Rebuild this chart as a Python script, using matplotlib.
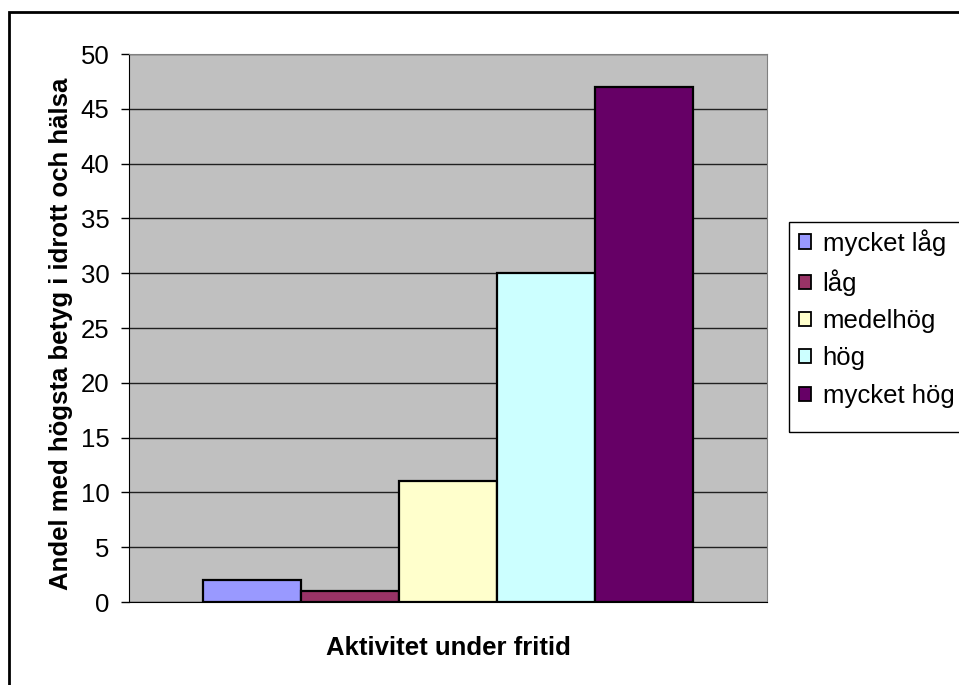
import matplotlib.pyplot as plt
from matplotlib.patches import Patch, Rectangle

plt.rcParams['font.family'] = ['Liberation Sans', 'DejaVu Sans']

# data
kategorier = ['mycket låg', 'låg', 'medelhög', 'hög', 'mycket hög']
andel = [2, 1, 11, 30, 47]
farger = ['#9999FF', '#993366', '#FFFFCC', '#CCFFFF', '#660066']
yticks = list(range(0, 51, 5))

FS = 18.5
W, H = 959, 685
fig = plt.figure(figsize=(W / 100, H / 100), dpi=100)
ax = fig.add_axes([129 / W, 1 - 602 / H, (767 - 129) / W, (602 - 54) / H])
ax.set_facecolor('#C0C0C0')

pos = list(range(len(andel)))
ax.bar(pos, andel, width=1.0, color=farger, edgecolor='black', linewidth=1.6, zorder=3)

ax.set_xlim(-1.255, 5.255)
ax.set_ylim(0, 50)
ax.set_yticks(yticks)
ax.set_xticks([])
ax.yaxis.grid(True, color='#202020', linewidth=1, zorder=1)
ax.set_axisbelow(True)
ax.tick_params(axis='y', labelsize=FS, length=6, width=1, direction='out', pad=8)

for side in ['top', 'right']:
    ax.spines[side].set_color('#808080')
ax.spines['left'].set_color('black')
ax.spines['bottom'].set_color('black')

ax.set_ylabel('Andel med högsta betyg i idrott och hälsa', fontsize=FS, fontweight='bold')
ax.yaxis.set_label_coords(-0.088, 0.49)
ax.set_xlabel('Aktivitet under fritid', fontsize=FS, fontweight='bold')
ax.xaxis.set_label_coords(0.5, -0.062)

# legend utanför diagramytan
handles = [Patch(facecolor=c, edgecolor='black', linewidth=1.3) for c in farger]
leg = fig.legend(handles, kategorier, loc='upper left',
                 bbox_to_anchor=(799 / W, 1 - 229 / H), fontsize=FS,
                 frameon=False, handlelength=0.47, handleheight=0.47,
                 handletextpad=0.45, labelspacing=0.52, borderpad=0,
                 borderaxespad=0)

# legendram
fig.add_artist(Rectangle((789 / W, 1 - 432 / H), 0.3, (432 - 222) / H,
                         transform=fig.transFigure, fill=False,
                         edgecolor='black', linewidth=1))

# ram runt hela figuren
fig.add_artist(Rectangle((9 / W, -0.05), 1.1, 1 - 12 / H + 0.05,
                         transform=fig.transFigure, fill=False,
                         edgecolor='black', linewidth=2))

fig.savefig('out.png', dpi=100)
